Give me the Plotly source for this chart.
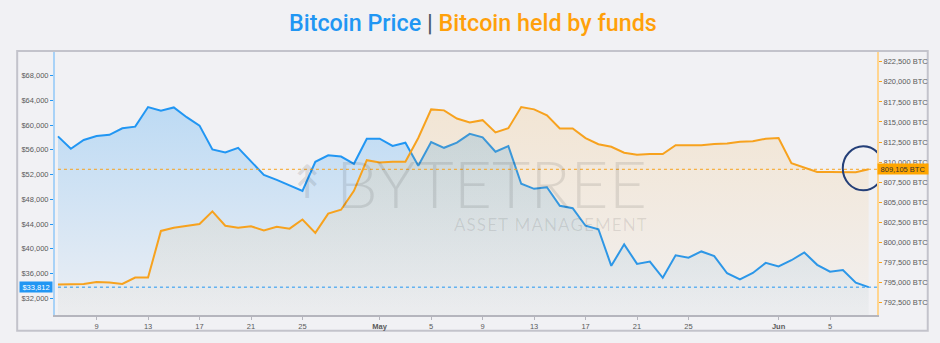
import pandas as pd
import plotly.graph_objects as go

# ---------------- data ----------------
start_date = "2021-04-06"
n_days = 64
dates = pd.date_range(start_date, periods=n_days, freq="D")

btc_price = [
    58160, 56160, 57580, 58210, 58420, 59475, 59740, 62900, 62320, 62840,
    61260, 59900, 56050, 55570, 56320, 54060, 51950, 51150, 50320, 49370,
    54060, 55100, 54900, 53740, 57790,
    57790, 56630, 57150, 53430, 57260, 56320, 57150, 58575, 58000, 55690,
    56590, 50520, 49690, 49950, 46950, 46570, 43730, 43160, 37260, 40730,
    37570, 37950, 35320, 38950, 38580, 39580, 38840, 36060, 35050, 36100,
    37730,
    37160, 38160, 39420, 37420, 36310, 36580, 34530, 33812,
]

btc_funds = [
    794765, 794765, 794814, 795058, 795009, 794814, 795618, 795618, 801428, 801830,
    802037, 802281, 803864, 802073, 801830, 802000, 801489, 801952, 801708, 802853,
    801184, 803584, 804071, 806422, 810234,
    809954, 810039, 810039, 812999, 816568, 816446, 815435, 814948, 815228, 813693,
    814217, 816860, 816568, 815837, 814180, 814180, 812999, 812232, 811903, 811172,
    810928, 811014, 811014, 812110, 812110, 812110, 812268, 812305, 812548, 812597,
    812914,
    812999, 809869, 809345, 808772, 808772, 808772, 808736, 809105,
]

x_tick_dates = ["2021-04-09", "2021-04-13", "2021-04-17", "2021-04-21", "2021-04-25",
                "2021-05-01", "2021-05-05", "2021-05-09", "2021-05-13", "2021-05-17",
                "2021-05-21", "2021-05-25", "2021-06-01", "2021-06-05"]
x_tick_text = ["9", "13", "17", "21", "25", "<b>May</b>", "5", "9", "13", "17",
               "21", "25", "<b>Jun</b>", "5"]

left_ticks = [32000, 36000, 40000, 44000, 48000, 52000, 56000, 60000, 64000, 68000]
left_tick_text = ["$32,000", "$36,000", "$40,000", "$44,000", "$48,000", "$52,000",
                  "$56,000", "$60,000", "$64,000", "$68,000"]
right_ticks = [792500, 795000, 797500, 800000, 802500, 805000, 807500, 810000,
               812500, 815000, 817500, 820000, 822500]
right_tick_text = ["792,500 BTC", "795,000 BTC", "797,500 BTC", "800,000 BTC",
                   "802,500 BTC", "805,000 BTC", "807,500 BTC", "810,000 BTC",
                   "812,500 BTC", "815,000 BTC", "817,500 BTC", "820,000 BTC",
                   "822,500 BTC"]

last_price = btc_price[-1]
last_funds = btc_funds[-1]

# ---------------- style ----------------
BLUE = "#2196f3"
ORANGE = "#f7a21e"
BG = "#f1f1f4"
TICK_FONT = dict(family="Liberation Sans, Arial, sans-serif", size=7.5, color="#5a5a5a")

x_range = ["2021-04-05 18:26", "2021-06-08 15:36"]
y_range = [29316, 71791]
y2_range = [790953, 823717]

fig = go.Figure()

fig.add_trace(go.Scatter(
    x=dates, y=btc_price, mode="lines", name="Bitcoin Price",
    line=dict(color=BLUE, width=2),
    fill="tozeroy",
    fillgradient=dict(type="vertical",
                      colorscale=[[0, "rgba(33,150,243,0.02)"], [1, "rgba(33,150,243,0.25)"]],
                      start=29316, stop=63000),
    yaxis="y", hoverinfo="skip",
))

fig.add_trace(go.Scatter(
    x=dates, y=btc_funds, mode="lines", name="Bitcoin held by funds",
    line=dict(color=ORANGE, width=2),
    fill="tozeroy",
    fillgradient=dict(type="vertical",
                      colorscale=[[0, "rgba(247,162,30,0.02)"], [1, "rgba(247,162,30,0.15)"]],
                      start=790953, stop=817000),
    yaxis="y2", hoverinfo="skip",
))

shapes = [
    # outer frame
    dict(type="rect", xref="paper", yref="paper",
         x0=(17 - 55) / 826, x1=(932 - 55) / 826,
         y0=(321 - 337) / 269, y1=(321 - 51) / 269,
         line=dict(color="#c3c3cb", width=2), fillcolor="rgba(0,0,0,0)", layer="below"),
    # dotted last-value lines
    dict(type="line", xref="x", yref="y", x0=dates[0], x1=x_range[1],
         y0=last_price, y1=last_price, line=dict(color=BLUE, width=1, dash="dot")),
    dict(type="line", xref="x", yref="y2", x0=dates[0], x1=x_range[1],
         y0=last_funds, y1=last_funds, line=dict(color=ORANGE, width=1, dash="dot")),
    # highlight circle
    dict(type="circle", xref="x", yref="y2", xsizemode="pixel", ysizemode="pixel",
         xanchor="2021-06-07 14:00", yanchor=last_funds,
         x0=-20.5, x1=20.5, y0=-21, y1=23,
         line=dict(color="#243f78", width=2)),
]

WM = "rgba(0,0,0,0.095)"
annotations = [
    # title
    dict(xref="paper", yref="paper", x=(475.5 - 55) / 826, y=(321 - 22) / 269,
         xanchor="center", yanchor="middle", showarrow=False,
         text='<span style="color:#2196f3">Bitcoin Price</span> '
              '<span style="color:#4d5b6b">|</span> '
              '<span style="color:#ffa00a">Bitcoin held by funds</span>',
         font=dict(family="Roboto, Lato, sans-serif", size=23.3, weight=500)),
    # watermark
    dict(xref="paper", yref="paper", x=(652 - 55) / 826, y=(321 - 185) / 269,
         xanchor="right", yanchor="middle", showarrow=False, text="BYTETREE",
         height=52, valign="middle",
         font=dict(family="Lato, sans-serif", size=66, weight=300, color=WM)),
    dict(xref="paper", yref="paper", x=(652 - 55) / 826, y=(321 - 227.5) / 269,
         xanchor="right", yanchor="middle", showarrow=False,
         text="A\u200aS\u200aS\u200aE\u200aT\u2009 M\u200aA\u200aN\u200aA\u200aG\u200aE"
              "\u200aM\u200aE\u200aN\u200aT",
         height=18, valign="middle",
         font=dict(family="Lato, sans-serif", size=17, color=WM)),
    dict(xref="paper", yref="paper", x=(309 - 55) / 826, y=(321 - 185) / 269,
         xanchor="center", yanchor="middle", showarrow=False, text="\u219f",
         font=dict(family="DejaVu Sans, sans-serif", size=46, color=WM)),
    # last value labels
    dict(xref="paper", yref="y", x=0, y=last_price, xanchor="right", yanchor="middle",
         xshift=-2, showarrow=False, text=f"${last_price:,}", bgcolor=BLUE,
         width=32, height=10, borderpad=0, align="center",
         font=dict(family="Liberation Sans, Arial, sans-serif", size=7.5, color="white")),
    dict(xref="paper", yref="y2", x=1, y=last_funds, xanchor="left", yanchor="middle",
         showarrow=False, text=f"{last_funds:,} BTC", bgcolor="#ffa500",
         width=50, height=10, borderpad=0, align="center",
         font=dict(family="Liberation Sans, Arial, sans-serif", size=7.5, color="#333333")),
]

fig.update_layout(
    width=940, height=343,
    margin=dict(l=55, r=59, t=52, b=22, pad=0),
    paper_bgcolor=BG, plot_bgcolor=BG,
    showlegend=False,
    shapes=shapes, annotations=annotations,
    xaxis=dict(type="date", range=x_range, tickmode="array", tickvals=x_tick_dates,
               ticktext=x_tick_text,
               showgrid=False, zeroline=False, showline=True, linecolor="#b5b5bd", linewidth=2,
               ticks="outside", ticklen=3, tickcolor="#b5b5bd", tickfont=TICK_FONT),
    yaxis=dict(range=y_range, tickmode="array", tickvals=left_ticks, ticktext=left_tick_text,
               showgrid=False, zeroline=False, showline=True, linecolor="#a8d2f7", linewidth=2,
               ticks="outside", ticklen=3, tickcolor=BLUE, tickfont=TICK_FONT),
    yaxis2=dict(range=y2_range, overlaying="y", side="right", tickmode="array",
                tickvals=right_ticks, ticktext=right_tick_text,
                showgrid=False, zeroline=False, showline=True, linecolor="#ffd590", linewidth=2,
                ticks="outside", ticklen=3, tickcolor=ORANGE, tickfont=TICK_FONT),
)

fig.write_html("out.html")
